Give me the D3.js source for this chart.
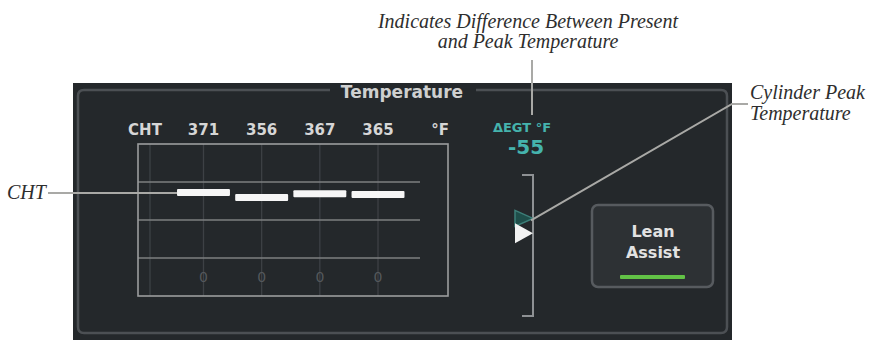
<!DOCTYPE html>
<html>
<head>
<meta charset="utf-8">
<script src="https://cdn.jsdelivr.net/npm/d3@7"></script>
<style>
  html, body { margin: 0; padding: 0; background: #ffffff; }
  svg { display: block; }
</style>
</head>
<body>
<svg id="chart" width="874" height="342"></svg>
<script>
// ---------------- data ----------------
const cylinders = ["1", "2", "3", "4"];
const chtValues = [371, 356, 367, 365];
const chtLabels = ["371", "356", "367", "365"];
const cylinderTags = ["0", "0", "0", "0"];
const gridValues = [164, 278, 392];
const chtDomain = [50, 506];
const deltaEgt = -55;
const peakDelta = 0;
const egtDomain = [160, -360];
const titleText = "Temperature";
const unitText = "°F";
const egtLabel = "ΔEGT °F";
const buttonLines = ["Lean", "Assist"];
const annoTop = ["Indicates Difference Between Present", "and Peak Temperature"];
const annoRight = ["Cylinder Peak", "Temperature"];
const annoLeft = "CHT";

// ---------------- drawing ----------------
const svg = d3.select("#chart");
const uiFont = "'DejaVu Sans', sans-serif";
const serif = "'Liberation Serif', 'DejaVu Serif', serif";
const teal = "#45b3ad";
const lead = "#a9a9a6";

// panel
svg.append("rect").attr("x", 73).attr("y", 83).attr("width", 659).attr("height", 257)
  .attr("fill", "#24282b");
// inner border with gap for title
const border = d3.path();
border.moveTo(330, 90); border.lineTo(84, 90); border.quadraticCurveTo(78, 90, 78, 96);
border.lineTo(78, 327); border.quadraticCurveTo(78, 333, 84, 333);
border.lineTo(721, 333); border.quadraticCurveTo(727, 333, 727, 327);
border.lineTo(727, 96); border.quadraticCurveTo(727, 90, 721, 90); border.lineTo(476, 90);
svg.append("path").attr("d", border.toString()).attr("fill", "none")
  .attr("stroke", "#4c5054").attr("stroke-width", 2.5);

svg.append("text").attr("x", 402).attr("y", 98).attr("text-anchor", "middle")
  .attr("font-family", uiFont).attr("font-weight", "bold").attr("font-size", 17)
  .attr("fill", "#cfd0d0").text(titleText);

// scales
const x = d3.scaleBand().domain(cylinders).range([174.4, 407.1])
  .paddingInner(0.09).paddingOuter(0.045);
const y = d3.scaleLinear().domain(chtDomain).range([296, 144]);
const box = { x0: 138, x1: 448, y0: y(chtDomain[1]), y1: y(chtDomain[0]) };

// faint vertical guides
const vx = [150].concat(cylinders.map(c => x(c) + x.bandwidth() / 2));
svg.append("g").selectAll("line").data(vx).join("line")
  .attr("x1", d => d).attr("x2", d => d).attr("y1", box.y0).attr("y2", box.y1)
  .attr("stroke", "#3d4145").attr("stroke-width", 1.3);

// gridlines
svg.append("g").selectAll("line").data(gridValues).join("line")
  .attr("x1", box.x0).attr("x2", 420).attr("y1", d => y(d)).attr("y2", d => y(d))
  .attr("stroke", "#7c7f81").attr("stroke-width", 1.3);

// box
svg.append("rect").attr("x", box.x0).attr("y", box.y0)
  .attr("width", box.x1 - box.x0).attr("height", box.y1 - box.y0)
  .attr("fill", "none").attr("stroke", "#9b9d9e").attr("stroke-width", 1.6);

// header
const header = svg.append("g").attr("font-family", uiFont).attr("font-weight", "bold")
  .attr("font-size", 15).attr("fill", "#d6d6d6").attr("text-anchor", "middle");
header.append("text").attr("x", 145).attr("y", 135).text("CHT");
header.selectAll("text.v").data(chtLabels).join("text").attr("class", "v")
  .attr("x", (d, i) => x(cylinders[i]) + x.bandwidth() / 2).attr("y", 135).text(d => d);
header.append("text").attr("x", 440).attr("y", 135).text(unitText);

// bars
svg.append("g").selectAll("rect").data(chtValues).join("rect")
  .attr("x", (d, i) => x(cylinders[i])).attr("width", x.bandwidth())
  .attr("y", d => y(d)).attr("height", 7).attr("rx", 1)
  .attr("fill", "#f6f6f6");

// cylinder tags
svg.append("g").selectAll("text").data(cylinderTags).join("text")
  .attr("x", (d, i) => x(cylinders[i]) + x.bandwidth() / 2).attr("y", 282)
  .attr("text-anchor", "middle").attr("font-family", uiFont).attr("font-size", 14)
  .attr("fill", "#54585c").text(d => d);

// ΔEGT
svg.append("text").attr("x", 522).attr("y", 132).attr("text-anchor", "middle")
  .attr("font-family", uiFont).attr("font-weight", "bold").attr("font-size", 13)
  .attr("fill", teal).text(egtLabel);
svg.append("text").attr("x", 526).attr("y", 154).attr("text-anchor", "middle")
  .attr("font-family", uiFont).attr("font-weight", "bold").attr("font-size", 20)
  .attr("fill", teal).text(String(deltaEgt));

const ey = d3.scaleLinear().domain(egtDomain).range([175, 316]);
svg.append("path")
  .attr("d", `M522,${ey(egtDomain[0])}H533V${ey(egtDomain[1])}H522`)
  .attr("fill", "none").attr("stroke", "#8e9194").attr("stroke-width", 2);

const tri = (cy, h) => `M515,${cy - h}L533,${cy}L515,${cy + h}Z`;
svg.append("path").attr("d", tri(ey(peakDelta), 8))
  .attr("fill", "#1f4e4a").attr("stroke", "#3d7f79").attr("stroke-width", 1.5);
svg.append("path").attr("d", tri(ey(deltaEgt), 10)).attr("fill", "#f2f2f2");

// Lean Assist button
svg.append("rect").attr("x", 592).attr("y", 205).attr("width", 121).attr("height", 82)
  .attr("rx", 6).attr("fill", "#2d3134").attr("stroke", "#575b5f").attr("stroke-width", 2.5);
svg.append("g").selectAll("text").data(buttonLines).join("text")
  .attr("x", 653).attr("y", (d, i) => 237 + i * 21).attr("text-anchor", "middle")
  .attr("font-family", uiFont).attr("font-weight", "bold").attr("font-size", 16)
  .attr("fill", "#e2e2e2").text(d => d);
svg.append("rect").attr("x", 620).attr("y", 275).attr("width", 65).attr("height", 4)
  .attr("rx", 1).attr("fill", "#62c246");

// annotations
const anno = svg.append("g").attr("font-family", serif).attr("font-style", "italic")
  .attr("font-size", 20).attr("fill", "#2e2e2e");
anno.selectAll("text.t").data(annoTop).join("text").attr("class", "t")
  .attr("x", 528).attr("y", (d, i) => 28 + i * 20).attr("text-anchor", "middle").text(d => d);
anno.selectAll("text.r").data(annoRight).join("text").attr("class", "r")
  .attr("x", 750).attr("y", (d, i) => 99 + i * 21).text(d => d);
anno.append("text").attr("x", 7).attr("y", 199).text(annoLeft);

const leaders = svg.append("g").attr("fill", "none").attr("stroke", lead).attr("stroke-width", 2);
leaders.append("path").attr("d", "M532,60V115");
leaders.append("path").attr("d", `M748,104H732L531,${ey(peakDelta) + 2}`);
leaders.append("path").attr("d", `M48,193H${x(cylinders[0])}`);
</script>
</body>
</html>
